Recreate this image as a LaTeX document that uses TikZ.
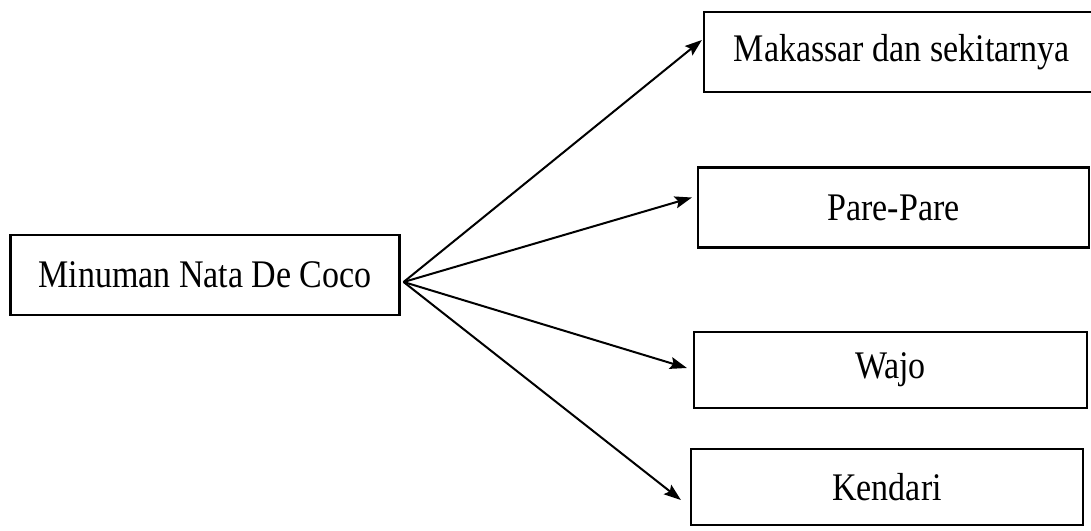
\documentclass[tikz,border=0pt]{standalone}
\usepackage{fontspec}
\setmainfont{Liberation Serif}
\usetikzlibrary{arrows.meta,calc}
\newcommand{\boxtext}[1]{\scalebox{1}[1.15]{#1}}
\tikzset{
  boxnode/.style={draw, line width=2.2pt, rectangle, inner sep=0pt,
    font=\fontsize{34}{40}\selectfont},
  conn/.style={line width=2pt, -{Stealth[length=17pt,width=12pt,inset=3pt]}}
}
\begin{document}
\begin{tikzpicture}[x=1pt,y=-1pt]
\useasboundingbox (0,0) rectangle (1091,530);
\clip (0,0) rectangle (1091,530);
\node[boxnode, minimum width=389pt, minimum height=80pt] (src) at (205,275) {\boxtext{Minuman Nata De Coco}};
\node[boxnode, minimum width=396pt, minimum height=80pt] (mak) at (902,52) {\boxtext{Makassar dan sekitarnya}};
\node[boxnode, minimum width=391pt, minimum height=80pt] (pare) at (893.5,207.5) {\boxtext{Pare-Pare}};
\node[boxnode, minimum width=393pt, minimum height=76pt] (wajo) at (890.5,370) {\boxtext{Wajo}};
\node[boxnode, minimum width=392pt, minimum height=76pt] (ken) at (887,487) {\boxtext{Kendari}};
\coordinate (o) at ($(src.east)+(3,7)$);
\draw[conn] (o) -- ($(mak.west)+(-1,-12)$);
\draw[conn] (o) -- ($(pare.west)+(-5,-10)$);
\draw[conn] (o) -- ($(wajo.west)+(-6,-2)$);
\draw[conn] (o) -- ($(ken.west)+(-9,13)$);
\end{tikzpicture}
\end{document}
